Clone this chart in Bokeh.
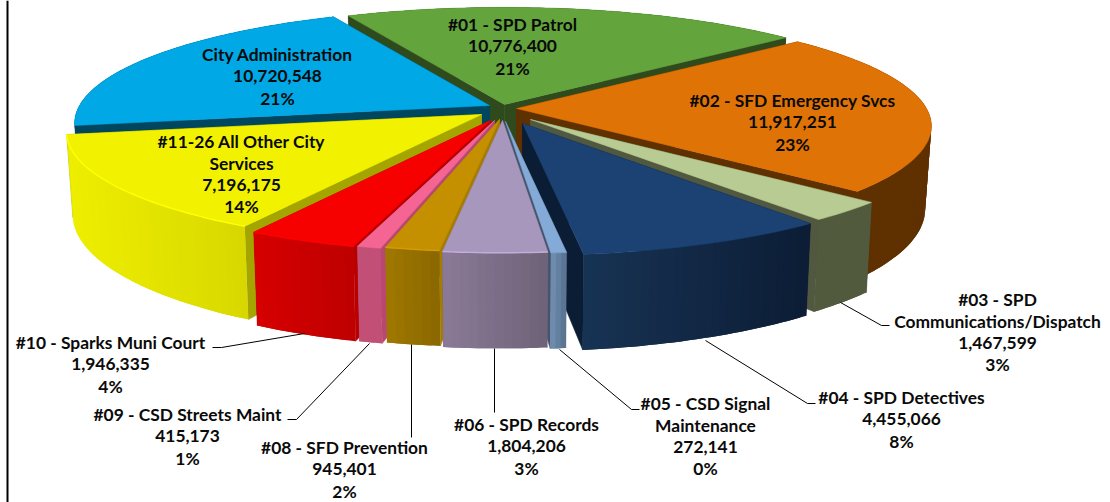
import math
from bokeh.plotting import figure
from bokeh.models import Range1d
from bokeh.core.properties import value
from bokeh.embed import file_html
from bokeh.resources import INLINE

# ---- data, clockwise from the first slice
categories = ["#01 - SPD Patrol", "#02 - SFD Emergency Svcs", "#03 - SPD Communications/Dispatch",
              "#04 - SPD Detectives", "#05 - CSD Signal Maintenance", "#06 - SPD Records",
              "#08 - SFD Prevention", "#09 - CSD Streets Maint", "#10 - Sparks Muni Court",
              "#11-26 All Other City Services", "City Administration"]
amounts = [10776400, 11917251, 1467599, 4455066, 272141, 1804206, 945401, 415173, 1946335, 7196175, 10720548]
percents = [21, 23, 3, 8, 0, 3, 2, 1, 4, 14, 21]
name_lines = [["#01 - SPD Patrol"], ["#02 - SFD Emergency Svcs"], ["#03 - SPD", "Communications/Dispatch"],
              ["#04 - SPD Detectives"], ["#05 - CSD Signal", "Maintenance"], ["#06 - SPD Records"],
              ["#08 - SFD Prevention"], ["#09 - CSD Streets Maint"], ["#10 - Sparks Muni Court"],
              ["#11-26 All Other City", "Services"], ["City Administration"]]

# ---- styles
top_colors = ["#63A43C", "#E07306", "#B8CB92", "#1C4274", "#84AAD8", "#A897BD", "#C49000", "#F56594", "#F60000", "#F2F200", "#00A8E6"]
wall_colors = ["#2F4A1C", "#5F3000", "#515840", "#0B1D35", "#44556B", "#6F6380", "#A67C00", "#B84872", "#B80000", "#A5A500", "#00465F"]
side_left = ["#2F4A1C", "#5F3000", "#525A3E", "#173354", "#7390B4", "#8A7A97", "#A07800", "#C25076", "#D60000", "#EEEE00", "#00465F"]
side_right = ["#2F4A1C", "#5F3000", "#525A3E", "#0C1D35", "#56708F", "#6E6278", "#8A6600", "#C25076", "#BE0000", "#D8D800", "#00465F"]
rim_colors = [None, None, None, None, None, "#C4ADDB", "#D49C00", None, "#FF0000", "#FFFF00", None]
draw_order = [0, 10, 1, 2, 3, 4, 9, 8, 7, 6, 5]

# ---- projection of the pie
W, H = 1110, 502
CX, CY, RX, RY, PERSP, DEPTH, TAPER = 502, 106, 410, 112, 0.153, 81, 0.985
START = -25.7
explode_dx = [2, 14, 28, 20, 3, 0, -3, -8, -12, -21, -13]
explode_dy = [-2, 2, 13, 17, 15, 14, 13, 14, 14, 8, -1]

def rim(theta, ax, ay):
    u, v = math.sin(math.radians(theta)), -math.cos(math.radians(theta))
    s = 1 / (1 - PERSP * v)
    return ax + RX * u * s, ay + RY * v * s, s

def drop(px, py, s, ax):
    return ax + (px - ax) * TAPER, py + DEPTH * s

def mix(a, b, t):
    ca = [int(a[i:i + 2], 16) for i in (1, 3, 5)]
    cb = [int(b[i:i + 2], 16) for i in (1, 3, 5)]
    return "#%02X%02X%02X" % tuple(round(x + (y - x) * t) for x, y in zip(ca, cb))

p = figure(width=W, height=H, x_range=Range1d(0, W), y_range=Range1d(H, 0),
           output_backend="svg", toolbar_location=None, min_border=0,
           outline_line_color=None, background_fill_color="white", border_fill_color="white")
p.axis.visible = False
p.grid.visible = False

# frame line at the left
p.line([7, 7], [0, H], line_color="black", line_width=2)

total = sum(amounts)
edges = [START]
for a in amounts:
    edges.append(edges[-1] + a / total * 360)

for i in draw_order:
    t0, t1 = edges[i], edges[i + 1]
    ax, ay = CX + explode_dx[i], CY + explode_dy[i]
    steps = max(3, int((t1 - t0) / 1.0))
    ts = [t0 + (t1 - t0) * k / steps for k in range(steps + 1)]
    pts = [rim(t, ax, ay) for t in ts]
    bot = [drop(*q, ax) for q in pts]
    apex_bot = (ax, ay + DEPTH)
    # radial walls
    for q, b in ((pts[0], bot[0]), (pts[-1], bot[-1])):
        p.patch([ax, q[0], b[0], apex_bot[0]], [ay, q[1], b[1], apex_bot[1]],
                fill_color=wall_colors[i], line_color=wall_colors[i], line_width=0.5)
    # outer side, shaded across its width; each strip runs under the next so no seam shows
    xs_all = [q[0] for q in pts]
    lo, hi = min(xs_all), max(xs_all)
    qx, qy, qc = [], [], []
    for k in range(steps):
        e = min(k + 2, steps)
        qx.append([pts[k][0], pts[k + 1][0], pts[e][0], bot[e][0], bot[k + 1][0], bot[k][0]])
        qy.append([pts[k][1], pts[k + 1][1], pts[e][1], bot[e][1], bot[k + 1][1], bot[k][1]])
        mid = (pts[k][0] + pts[k + 1][0]) / 2
        qc.append(mix(side_left[i], side_right[i], (mid - lo) / max(hi - lo, 1)))
    p.patches(qx, qy, fill_color=qc, line_color=None)
    # top face
    p.patch([ax] + [q[0] for q in pts], [ay] + [q[1] for q in pts],
            fill_color=top_colors[i], line_color=top_colors[i], line_width=0.5)
    if rim_colors[i]:
        p.line([q[0] for q in pts], [q[1] for q in pts], line_color=rim_colors[i], line_width=1.5)

# ---- leader lines
leaders = [
    ([840, 881, 889], [302, 325, 325]),
    ([705, 807, 815], [340, 403, 403]),
    ([559, 631, 639], [349, 409, 409]),
    ([494, 494], [348, 412]),
    ([411, 411], [344, 437]),
    ([369, 296, 287], [343, 419, 419]),
    ([304, 221, 212], [333, 347, 347]),
]
for lx, ly in leaders:
    p.line(lx, ly, line_color="black", line_width=1)

# ---- labels: centre x and first line y, 21.8 px line pitch
label_x = [512, 792, 997, 901, 705, 526, 344, 187, 110, 241, 277]
label_y = [24, 100, 299, 397, 403, 424, 447, 414, 342, 141, 54]
tx, ty, tt = [], [], []
for i, lines in enumerate(name_lines):
    rows = lines + [f"{amounts[i]:,}", f"{percents[i]}%"]
    for r, row in enumerate(rows):
        tx.append(label_x[i])
        ty.append(label_y[i] + r * 21.8)
        tt.append(row)
p.text(tx, ty, text=tt, text_font=value("Lato"), text_font_style="bold", text_font_size="17.4px",
       text_color="#0A0A0A", text_align="center", text_baseline="middle")

open("out.html", "w").write(file_html(p, INLINE))
